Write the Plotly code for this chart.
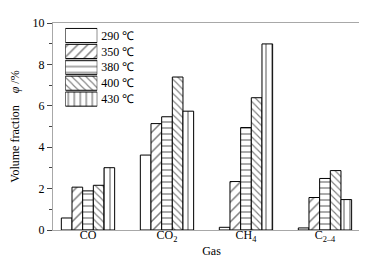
import plotly.graph_objects as go

categories = ["CO", "CO2", "CH4", "C2-4"]
tick_labels = ["CO", "CO<sub>2</sub>", "CH<sub>4</sub>", "C<sub>2–4</sub>"]
temps = ["290 ℃", "350 ℃", "380 ℃", "400 ℃", "430 ℃"]
v290 = [0.58, 3.62, 0.13, 0.10]
v350 = [2.07, 5.14, 2.34, 1.57]
v380 = [1.89, 5.47, 4.95, 2.49]
v400 = [2.16, 7.39, 6.39, 2.87]
v430 = [3.01, 5.74, 8.99, 1.47]
series = [v290, v350, v380, v400, v430]

shapes = ["", "/", "-", "\\", "|"]
psizes = [6, 7, 6, 5, 6]

FONT = "Liberation Serif, Times New Roman, serif"

fig = go.Figure()
for name, vals, sh, ps in zip(temps, series, shapes, psizes):
    fig.add_trace(go.Bar(
        x=categories, y=vals, name=name, showlegend=False,
        marker=dict(color="white", line=dict(color="black", width=1),
                    pattern=dict(shape=sh, fgcolor="black", bgcolor="white",
                                 size=ps, solidity=0.22)),
    ))

# legend drawn as a small horizontal bar chart on its own axes
fig.add_trace(go.Bar(
    x=[1] * len(temps), y=list(range(len(temps))), orientation="h",
    width=0.89, xaxis="x2", yaxis="y2", showlegend=False, hoverinfo="skip",
    marker=dict(color="white", line=dict(color="black", width=1),
                pattern=dict(shape=shapes, fgcolor="black", bgcolor="white",
                             size=psizes, solidity=0.22)),
))

fig.update_layout(
    width=367, height=257,
    margin=dict(l=45, r=5, t=15, b=35),
    paper_bgcolor="white", plot_bgcolor="white",
    font=dict(family=FONT, size=12, color="black"),
    barmode="group", bargap=0.325, bargroupgap=0,
    xaxis=dict(
        type="category", categoryorder="array", categoryarray=categories,
        tickvals=categories, ticktext=tick_labels,
        range=[-0.443, 3.57], showgrid=False, zeroline=False,
        showline=True, linecolor="#a8a8a8", linewidth=1, mirror=True,
        ticks="", ticklabelstandoff=-6,
        tickfont=dict(family=FONT, size=12),
        title=dict(text="Gas", standoff=3, font=dict(family=FONT, size=12)),
    ),
    yaxis=dict(
        range=[0, 10], dtick=2, showgrid=False, zeroline=False,
        showline=True, linecolor="#a8a8a8", linewidth=1, mirror=True,
        ticks="outside", ticklen=5, tickcolor="#444", tickwidth=1,
        tickfont=dict(family=FONT, size=12),
        minor=dict(dtick=1, ticks="outside", ticklen=3, tickcolor="#444"),
        title=dict(text="Volume fraction    <i>φ</i> /%", standoff=10,
                   font=dict(family=FONT, size=12)),
    ),
    xaxis2=dict(domain=[0.0388, 0.1397], range=[0, 1], visible=False,
                anchor="y2", fixedrange=True),
    yaxis2=dict(domain=[0.594, 0.978], range=[4.5, -0.5], anchor="x2",
                side="right", tickvals=list(range(len(temps))), ticktext=temps,
                ticks="", showline=False, showgrid=False, zeroline=False,
                tickfont=dict(family=FONT, size=12),
                ticklabelstandoff=3, fixedrange=True),
)

fig.write_html("out.html")
